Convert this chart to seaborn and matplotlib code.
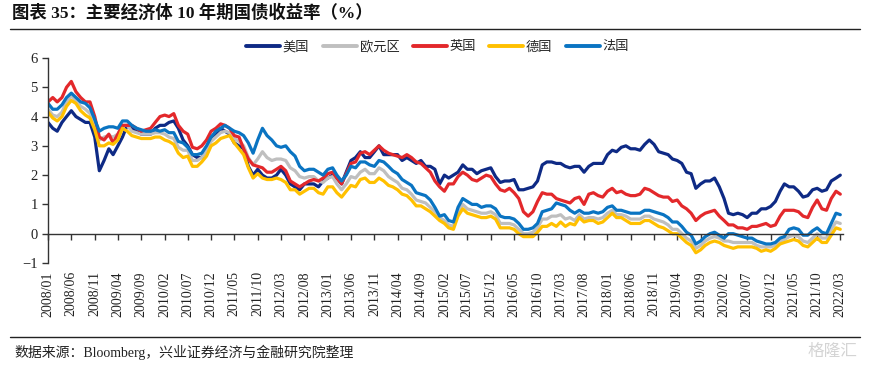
import numpy as np
import pandas as pd
import seaborn as sns
import matplotlib.pyplot as plt
import matplotlib.dates as mdates
from matplotlib.lines import Line2D

# Monthly 10Y government bond yields (%), 2008/01 - 2022/03
dates = pd.date_range("2008-01-01", "2022-03-01", freq="MS")

us = [3.8, 3.6, 3.5, 3.8, 4.0, 4.2, 4.0, 3.9, 3.8, 3.8, 3.3, 2.15,
      2.5, 2.9, 2.7, 3.0, 3.3, 3.7, 3.6, 3.5, 3.4, 3.4, 3.4, 3.6,
      3.7, 3.7, 3.8, 3.85, 3.6, 3.2, 3.0, 2.7, 2.6, 2.6, 2.9, 3.3,
      3.4, 3.6, 3.5, 3.4, 3.1, 3.0, 2.9, 2.3, 2.0, 2.2, 2.0, 1.9,
      1.9, 2.0, 2.2, 2.0, 1.7, 1.6, 1.5, 1.7, 1.7, 1.7, 1.6, 1.8,
      1.9, 2.0, 1.9, 1.7, 2.1, 2.5, 2.6, 2.8, 2.6, 2.6, 2.8, 3.0,
      2.7, 2.7, 2.7, 2.7, 2.5, 2.6, 2.5, 2.4, 2.5, 2.3, 2.3, 2.2,
      1.7, 2.0, 1.9, 2.0, 2.1, 2.35, 2.2, 2.2, 2.05, 2.15, 2.2, 2.25,
      1.95, 1.75, 1.8, 1.8, 1.85, 1.5, 1.5, 1.55, 1.6, 1.8, 2.35, 2.45,
      2.45, 2.4, 2.4, 2.3, 2.25, 2.3, 2.3, 2.1, 2.3, 2.4, 2.4, 2.4,
      2.7, 2.85, 2.8, 2.95, 3.0, 2.9, 2.9, 2.85, 3.05, 3.2, 3.05, 2.8,
      2.75, 2.7, 2.55, 2.5, 2.4, 2.1, 2.05, 1.55, 1.7, 1.8, 1.8, 1.9,
      1.6, 1.2, 0.7, 0.65, 0.7, 0.65, 0.55, 0.7, 0.7, 0.85, 0.85, 0.93,
      1.1, 1.45, 1.7, 1.6, 1.6, 1.45, 1.25, 1.3, 1.5, 1.55, 1.45, 1.5,
      1.8, 1.9, 2.0]

euro = [4.25, 4.05, 4.0, 4.15, 4.5, 4.7, 4.55, 4.35, 4.25, 4.1, 3.7, 3.2,
        3.3, 3.35, 3.3, 3.4, 3.7, 3.7, 3.5, 3.45, 3.4, 3.4, 3.4, 3.45,
        3.45, 3.4, 3.3, 3.25, 2.95, 2.85, 2.85, 2.5, 2.5, 2.6, 2.85, 3.15,
        3.3, 3.45, 3.5, 3.45, 3.25, 3.15, 3.0, 2.6, 2.35, 2.55, 2.8, 2.6,
        2.5, 2.55, 2.55, 2.5, 2.25, 2.15, 1.95, 1.9, 1.95, 1.95, 1.8, 1.75,
        1.9, 1.95, 1.7, 1.5, 1.7, 1.95, 1.9, 2.1, 2.2, 2.05, 2.05, 2.25,
        2.15, 1.95, 1.85, 1.75, 1.55, 1.5, 1.35, 1.15, 1.1, 1.05, 0.9, 0.75,
        0.55, 0.45, 0.3, 0.25, 0.75, 1.0, 0.85, 0.8, 0.75, 0.7, 0.7, 0.75,
        0.65, 0.35, 0.35, 0.35, 0.3, 0.15, 0.0, 0.0, 0.05, 0.2, 0.5, 0.5,
        0.6, 0.6, 0.65, 0.5, 0.55, 0.45, 0.65, 0.5, 0.55, 0.55, 0.5, 0.55,
        0.7, 0.8, 0.65, 0.65, 0.6, 0.5, 0.5, 0.5, 0.6, 0.6, 0.5, 0.45,
        0.4, 0.3, 0.15, 0.15, 0.0, -0.15, -0.25, -0.5, -0.4, -0.25, -0.15, -0.1,
        -0.15, -0.25, -0.25, -0.3, -0.3, -0.3, -0.3, -0.3, -0.4, -0.45, -0.45, -0.45,
        -0.4, -0.25, -0.2, -0.1, -0.05, -0.1, -0.25, -0.3, -0.15, 0.0, -0.15, -0.15,
        0.15, 0.4, 0.35]

uk = [4.5, 4.65, 4.5, 4.65, 5.0, 5.2, 4.85, 4.65, 4.5, 4.5, 4.0, 3.3,
      3.2, 3.4, 3.1, 3.4, 3.7, 3.7, 3.7, 3.6, 3.5, 3.55, 3.6, 3.8,
      4.0, 4.05, 4.0, 4.1, 3.7, 3.5, 3.4, 2.95, 2.9, 3.0, 3.2, 3.5,
      3.6, 3.75, 3.7, 3.6, 3.35, 3.3, 2.9, 2.55, 2.35, 2.3, 2.25, 2.1,
      2.1, 2.2, 2.3, 2.15, 1.8, 1.7, 1.6, 1.7, 1.8, 1.85, 1.8, 1.9,
      2.05, 2.1, 1.9, 1.7, 2.05, 2.4, 2.45, 2.75, 2.8, 2.7, 2.85, 3.0,
      2.85, 2.75, 2.7, 2.65, 2.6, 2.7, 2.6, 2.45, 2.4, 2.25, 2.1, 1.8,
      1.6, 1.45, 1.7, 1.7, 1.95, 2.1, 2.0, 1.85, 1.8, 1.9, 2.0, 1.95,
      1.7, 1.5, 1.45, 1.55, 1.4, 1.2, 0.75, 0.6, 0.75, 1.1, 1.4, 1.35,
      1.35, 1.2, 1.15, 1.1, 1.05, 1.2, 1.25, 1.0, 1.35, 1.4, 1.3, 1.25,
      1.45, 1.55, 1.4, 1.45, 1.35, 1.3, 1.3, 1.35, 1.55, 1.5, 1.4, 1.3,
      1.25, 1.25, 1.1, 1.15, 0.95, 0.85, 0.7, 0.45, 0.6, 0.7, 0.75, 0.8,
      0.6, 0.45, 0.3, 0.3, 0.2, 0.2, 0.15, 0.25, 0.25, 0.3, 0.35, 0.25,
      0.3, 0.6, 0.8, 0.8, 0.8, 0.75, 0.6, 0.55, 0.9, 1.15, 0.85, 0.8,
      1.2, 1.45, 1.35]

germany = [4.15, 3.95, 3.85, 4.0, 4.35, 4.55, 4.45, 4.2, 4.05, 3.95, 3.55, 3.0,
           3.0, 3.1, 3.05, 3.2, 3.6, 3.5, 3.35, 3.3, 3.25, 3.25, 3.25, 3.3,
           3.3, 3.2, 3.15, 3.05, 2.75, 2.6, 2.65, 2.3, 2.3, 2.45, 2.65, 3.0,
           3.1, 3.25, 3.3, 3.35, 3.1, 2.9, 2.7, 2.25, 1.9, 2.05, 1.9, 1.85,
           1.85, 1.9, 1.85, 1.75, 1.5, 1.5, 1.35, 1.45, 1.55, 1.55, 1.4, 1.35,
           1.6, 1.6, 1.4, 1.25, 1.45, 1.65, 1.6, 1.85, 1.9, 1.75, 1.75, 1.9,
           1.8, 1.65, 1.6, 1.5, 1.35, 1.3, 1.15, 0.95, 0.95, 0.85, 0.75, 0.6,
           0.45, 0.35, 0.2, 0.15, 0.6, 0.85, 0.7, 0.65, 0.6, 0.55, 0.55, 0.6,
           0.5, 0.2, 0.2, 0.2, 0.15, 0.0, -0.1, -0.1, -0.1, 0.05, 0.25, 0.25,
           0.35, 0.25, 0.4, 0.25, 0.35, 0.3, 0.55, 0.4, 0.45, 0.45, 0.35, 0.4,
           0.55, 0.7, 0.55, 0.55, 0.45, 0.35, 0.35, 0.35, 0.45, 0.45, 0.35, 0.25,
           0.2, 0.1, 0.0, 0.0, -0.15, -0.3, -0.4, -0.65, -0.55, -0.4, -0.3, -0.25,
           -0.3, -0.4, -0.45, -0.5, -0.45, -0.45, -0.45, -0.45, -0.5, -0.6, -0.55, -0.6,
           -0.5, -0.35, -0.3, -0.25, -0.2, -0.25, -0.4, -0.45, -0.3, -0.15, -0.3, -0.3,
           -0.05, 0.2, 0.15]

france = [4.45, 4.25, 4.25, 4.4, 4.65, 4.8, 4.65, 4.5, 4.45, 4.3, 3.9, 3.5,
          3.6, 3.65, 3.65, 3.6, 3.85, 3.85, 3.7, 3.6, 3.55, 3.5, 3.5, 3.55,
          3.5, 3.55, 3.45, 3.45, 3.15, 3.1, 2.95, 2.7, 2.7, 2.75, 3.0, 3.3,
          3.5, 3.6, 3.7, 3.6, 3.5, 3.45, 3.35, 3.1, 2.75, 3.2, 3.6, 3.35,
          3.2, 3.0, 2.95, 3.0, 2.8, 2.65, 2.3, 2.15, 2.2, 2.2, 2.1, 2.0,
          2.2, 2.25, 2.0, 1.8, 2.0, 2.3, 2.25, 2.45, 2.45, 2.35, 2.3, 2.5,
          2.45, 2.3, 2.15, 2.05, 1.85, 1.75, 1.65, 1.4, 1.35, 1.3, 1.15, 0.9,
          0.6, 0.65, 0.45, 0.4, 0.9, 1.2, 1.1, 1.0, 1.0, 0.9, 0.95, 0.95,
          0.85, 0.6, 0.55, 0.55, 0.5, 0.35, 0.15, 0.15, 0.2, 0.35, 0.75, 0.8,
          0.85, 1.05, 1.0, 0.95, 0.8, 0.7, 0.8, 0.7, 0.7, 0.75, 0.7, 0.75,
          0.9, 0.95, 0.8, 0.8, 0.75, 0.7, 0.7, 0.7, 0.8, 0.8, 0.75, 0.7,
          0.65, 0.55, 0.4, 0.4, 0.25, 0.05, -0.05, -0.35, -0.25, -0.1, 0.0, 0.05,
          -0.05, -0.15, 0.0, 0.0, -0.05, -0.1, -0.15, -0.15, -0.25, -0.3, -0.35, -0.35,
          -0.3, -0.15, -0.1, 0.15, 0.2, 0.15, -0.05, -0.05, 0.1, 0.2, 0.05, 0.0,
          0.35, 0.7, 0.65]

names = ["美国", "欧元区", "英国", "德国", "法国"]
colors = ["#0E2A85", "#BFBFBF", "#E3282B", "#FFC000", "#0A74C2"]

df = pd.DataFrame({"date": dates, "美国": us, "欧元区": euro, "英国": uk,
                   "德国": germany, "法国": france})
long = df.melt(id_vars="date", var_name="国家", value_name="收益率")

sns.set_style("ticks")
plt.rcParams["font.family"] = ["Liberation Serif", "Noto Sans CJK SC", "DejaVu Sans"]

fig = plt.figure(figsize=(8.7, 3.67), dpi=100)
ax = fig.add_axes([0.0552, 0.2834, 0.914, 0.5586])

sns.lineplot(data=long, x="date", y="收益率", hue="国家", hue_order=names,
             palette=colors, linewidth=2.3, legend=False, ax=ax)

ax.set_ylim(-1, 6)
ax.set_yticks(range(-1, 7))
ax.set_xlim(pd.Timestamp("2008-01-01"), pd.Timestamp("2022-03-20"))
ticks = pd.date_range("2008-01-01", "2022-03-01", freq="5MS")
ax.set_xticks(ticks)
ax.xaxis.set_major_formatter(mdates.DateFormatter("%Y/%m"))
ax.set_xlabel("")
ax.set_ylabel("")

for s in ["top", "right"]:
    ax.spines[s].set_visible(False)
ax.spines["bottom"].set_position(("data", 0))
for s in ["left", "bottom"]:
    ax.spines[s].set_color("#333333")
    ax.spines[s].set_linewidth(1.0)

ax.tick_params(axis="x", direction="out", length=4, width=1, color="#333333",
               labelsize=10, pad=23, labelrotation=90, labelcolor="#222222")
ax.tick_params(axis="y", direction="out", length=4, width=1, color="#333333",
               labelsize=10.5, labelcolor="#222222")

handles = [Line2D([], [], color=c, lw=2.8) for c in colors]
fig.legend(handles, names, loc="center", bbox_to_anchor=(0.503, 0.872), ncol=5,
           frameon=False, handlelength=2.6, handletextpad=0.2, columnspacing=1.0,
           prop={"family": ["Noto Sans CJK SC"], "size": 9.5})

fig.text(0.014, 0.963, "图表 35：主要经济体 10 年期国债收益率（%）", fontsize=12.5,
         fontweight="bold", va="center", ha="left", color="#111111")
fig.add_artist(Line2D([0.012, 0.989], [0.921, 0.921], color="#222222", lw=1.0))
fig.add_artist(Line2D([0.012, 0.989], [0.082, 0.082], color="#222222", lw=1.0))
fig.text(0.017, 0.041, "数据来源：Bloomberg，兴业证券经济与金融研究院整理", fontsize=10,
         va="center", ha="left", color="#222222")
fig.text(0.985, 0.041, "格隆汇", fontsize=12, va="center", ha="right",
         color="#D4D4D4", family=["Noto Sans CJK SC"])

fig.savefig("out.png", dpi=100)
